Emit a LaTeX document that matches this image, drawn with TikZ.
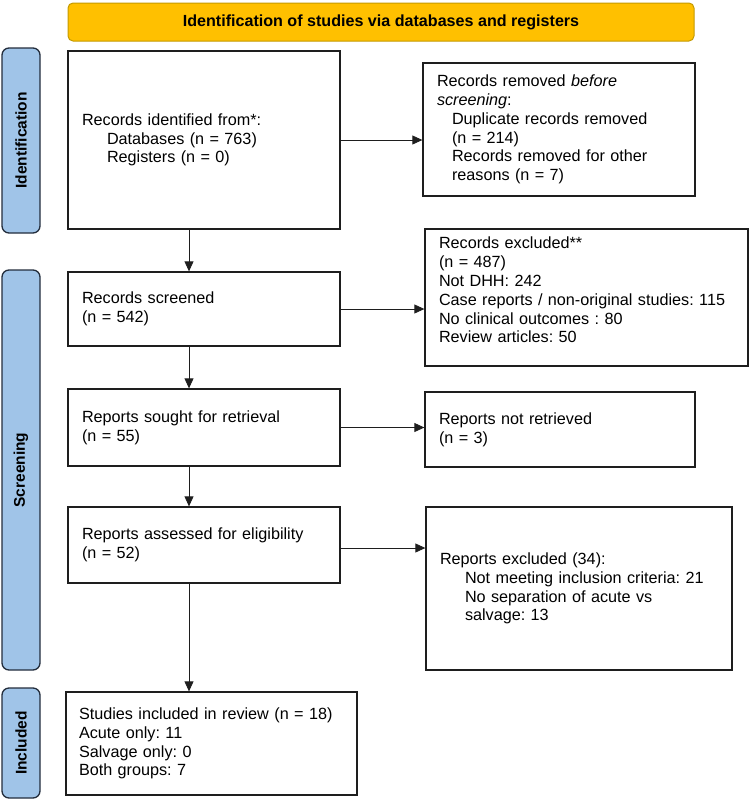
\documentclass[tikz,border=0pt]{standalone}
\usepackage{fontspec}
\setmainfont{Liberation Sans}
\usetikzlibrary{arrows.meta}
\definecolor{bannerfill}{RGB}{255,192,0}
\definecolor{bannerdraw}{RGB}{196,154,0}
\definecolor{sidefill}{RGB}{160,196,232}
\definecolor{sidedraw}{RGB}{35,45,60}
\definecolor{ink}{RGB}{30,30,30}
\frenchspacing
\begin{document}
\begin{tikzpicture}[x=1pt,y=-1pt,
  box/.style={draw=ink, line width=1.3pt, rectangle, align=left,
    inner xsep=14pt, inner ysep=0pt, text=black,
    font=\frenchspacing\fontsize{16.2}{18.8}\selectfont},
  banner/.style={draw=bannerdraw, fill=bannerfill, line width=1pt,
    rounded corners=5pt, minimum width=626pt, minimum height=38pt,
    inner sep=0pt, font=\bfseries\fontsize{16.1}{19}\selectfont},
  sidebar/.style={draw=sidedraw, fill=sidefill, line width=1.3pt,
    rounded corners=7pt, rotate=90, minimum height=38pt, inner sep=0pt,
    font=\bfseries\fontsize{15.5}{18}\selectfont},
  arr/.style={draw=ink, line width=0.8pt, -{Triangle[length=10pt,width=9pt]}}
]
\useasboundingbox (0,0) rectangle (750,801);

% banner
\node[banner] (title) at (381,22) {Identification of studies via databases and registers};

% side bars
\node[sidebar, minimum width=185pt] (sideid) at (21,140.5) {Identification};
\node[sidebar, minimum width=400pt] (sidescr) at (21,470) {Screening};
\node[sidebar, minimum width=110pt] (sideinc) at (21,743) {Included};

% boxes
\node[box, minimum width=272pt, minimum height=178pt, text width=244pt] (ident) at (204,140)
  {Records identified from*:\\
   \hspace*{25pt}Databases (n = 763)\\
   \hspace*{25pt}Registers (n = 0)};

\node[box, minimum width=272pt, minimum height=133pt, text width=244pt] (removed) at (559,129.5)
  {Records removed \textit{before}\\
   \textit{screening}:\\
   \hspace*{15pt}Duplicate records removed\\
   \hspace*{15pt}(n = 214)\\
   \hspace*{15pt}Records removed for other\\
   \hspace*{15pt}reasons (n = 7)};

\node[box, minimum width=272pt, minimum height=74pt, text width=244pt] (screened) at (204,309)
  {Records screened\\
   (n = 542)};

\node[box, minimum width=323pt, minimum height=137pt, text width=295pt] (excluded) at (586.5,297.5)
  {Records excluded**\\
   (n = 487)\\
   Not DHH: 242\\
   Case reports / non-original studies: 115\\
   No clinical outcomes : 80\\
   Review articles: 50\\[-4pt]\mbox{}};

\node[box, minimum width=272pt, minimum height=77pt, text width=244pt] (sought) at (204,427.5)
  {Reports sought for retrieval\\
   (n = 55)};

\node[box, minimum width=270pt, minimum height=75pt, text width=242pt] (notret) at (560,429.5)
  {Reports not retrieved\\
   (n = 3)};

\node[box, minimum width=272pt, minimum height=76pt, text width=244pt] (assessed) at (204,545)
  {Reports assessed for eligibility\\
   (n = 52)};

\node[box, minimum width=306pt, minimum height=163pt, text width=278pt] (repexcl) at (579,588.5)
  {Reports excluded (34):\\
   \hspace*{25pt}Not meeting inclusion criteria: 21\\
   \hspace*{25pt}No separation of acute vs\\
   \hspace*{25pt}salvage: 13};

\node[box, minimum width=291pt, minimum height=103pt, text width=265pt, inner xsep=13pt] (included) at (211.5,743.5)
  {Studies included in review (n = 18)\\
   Acute only: 11\\
   Salvage only: 0\\
   Both groups: 7};

% connectors
\coordinate (spine) at (189,0);
\draw[arr] (ident.east) -- (ident.east -| removed.west);
\draw[arr] (ident.south -| spine) -- (screened.north -| spine);
\draw[arr] (screened.east) -- (screened.east -| excluded.west);
\draw[arr] (screened.south -| spine) -- (sought.north -| spine);
\draw[arr] (sought.east) -- (sought.east -| notret.west);
\draw[arr] (sought.south -| spine) -- (assessed.north -| spine);
\draw[arr] ([yshift=-3pt]assessed.east) -- ([yshift=-3pt]assessed.east -| repexcl.west);
\draw[arr] (assessed.south -| spine) -- (included.north -| spine);
\end{tikzpicture}
\end{document}
